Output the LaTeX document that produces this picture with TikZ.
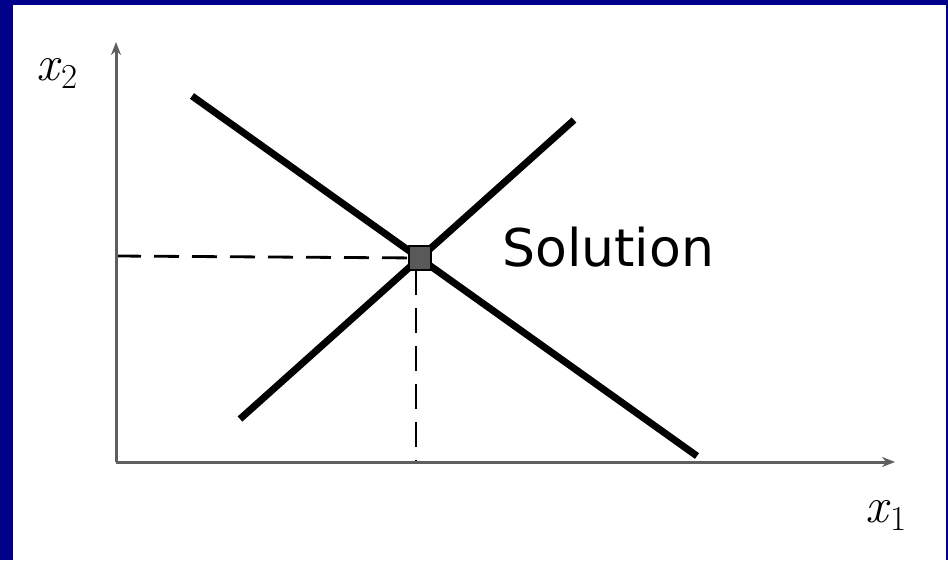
\documentclass[tikz,border=0pt]{standalone}
\usepackage{fontspec}
\newfontfamily\solfont{DejaVu Sans}
\usetikzlibrary{arrows.meta}
\definecolor{frameblue}{RGB}{0,0,138}
\definecolor{axisgray}{RGB}{95,95,95}
\newcommand{\axsub}[1]{\raisebox{-8pt}{\fontsize{35}{40}\selectfont #1}}
\begin{document}
\begin{tikzpicture}[x=1pt,y=-1pt,
  axisline/.style={draw=axisgray,line width=3pt,-{Stealth[length=13pt,width=10pt,fill=black]}},
  solline/.style={draw=black,line width=7pt},
  guide/.style={draw=black,line width=2.8pt,dash pattern=on 25pt off 13pt},
  axislabel/.style={inner sep=0pt,anchor=base west,font=\fontsize{50}{58}\selectfont},
  sollabel/.style={inner sep=0pt,anchor=base west,font=\solfont\fontsize{52}{60}\selectfont}]
\useasboundingbox (0,0) rectangle (948,560);
\fill[frameblue] (0,0) rectangle (948,560);
\fill[white] (13,5) rectangle (946,560);
% coordinates
\coordinate (O) at (116,462);
\coordinate (ytop) at (116,42);
\coordinate (xend) at (895,462);
\coordinate (a1) at (192,96);
\coordinate (a2) at (697,456);
\coordinate (b1) at (240,419);
\coordinate (b2) at (574,120);
\coordinate (P) at (420,258);
\coordinate (Py) at (116,256);
\coordinate (Pv) at (416,270);
\coordinate (Px) at (416,462);
% guides
\draw[guide] (Py) -- (P);
\draw[guide] (Pv) -- (Px);
% axes
\draw[axisline] (O) -- (ytop);
\draw[axisline] (O) -- (xend);
% lines
\draw[solline] (a1) -- (a2);
\draw[solline] (b1) -- (b2);
% solution point
\node[draw=black,line width=1.5pt,fill=black!65,minimum width=22pt,minimum height=24pt,inner sep=0pt] (sq) at (P) {};
% labels
\node[sollabel] (sol) at (502,266) {Solution};
\node[axislabel] (xtwo) at (36,80) {\textit{x}\axsub{2}};
\node[axislabel] (xone) at (865,522) {\textit{x}\axsub{1}};
\end{tikzpicture}
\end{document}
